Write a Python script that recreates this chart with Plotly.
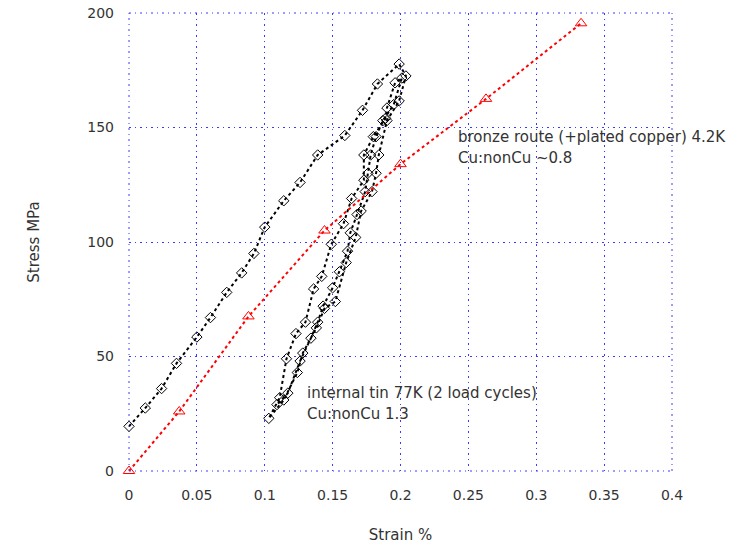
import plotly.graph_objects as go

# Bronze route (+plated copper) at 4.2 K
bronze_strain = [0.0, 0.037, 0.088, 0.144, 0.200, 0.263, 0.333]
bronze_stress = [0.0, 26.0, 67.5, 105.0, 134.0, 162.5, 195.5]

# Internal tin at 77 K, two load cycles (loading, unloading, reloading, unloading)
tin_strain = [
    0.000, 0.012, 0.024, 0.035, 0.050, 0.060, 0.072, 0.083, 0.092, 0.100,
    0.114, 0.126, 0.139, 0.159, 0.172, 0.183, 0.199,
    0.204, 0.199, 0.190, 0.184, 0.182, 0.179, 0.171, 0.167, 0.160, 0.152,
    0.144, 0.138, 0.128, 0.124, 0.114, 0.103,
    0.111, 0.116, 0.123, 0.130, 0.136, 0.142, 0.149, 0.158, 0.164, 0.173,
    0.173, 0.180, 0.189, 0.190, 0.196, 0.201,
    0.195, 0.187, 0.182, 0.178, 0.176, 0.174, 0.168, 0.163, 0.161, 0.155,
    0.150, 0.143, 0.139, 0.134, 0.126, 0.117, 0.109,
]
tin_stress = [
    19.5, 27.5, 36.0, 47.0, 58.5, 67.0, 78.0, 86.5, 95.0, 106.5,
    118.0, 126.0, 138.0, 146.5, 157.5, 169.0, 177.7,
    172.5, 161.6, 153.0, 138.0, 130.0, 122.0, 113.5, 102.0, 91.0, 74.0,
    71.0, 62.5, 51.5, 43.0, 31.0, 23.0,
    32.0, 49.0, 60.0, 65.0, 79.5, 85.0, 99.0, 108.0, 119.0, 127.0,
    138.0, 146.0, 154.0, 158.5, 169.5, 171.6,
    160.0, 153.0, 146.0, 138.0, 130.0, 122.0, 112.0, 104.0, 96.0, 87.0,
    80.0, 72.0, 65.0, 58.0, 48.0, 34.0, 29.0,
]

x_ticks = [0, 0.05, 0.1, 0.15, 0.2, 0.25, 0.3, 0.35, 0.4]
x_tick_text = ["0", "0.05", "0.1", "0.15", "0.2", "0.25", "0.3", "0.35", "0.4"]
y_ticks = [0, 50, 100, 150, 200]

text_color = "#333333"
font_family = "DejaVu Sans, sans-serif"
grid_color = "#3a3aff"
grid_dash = "2px,4px,1px,4px"

fig = go.Figure()

fig.add_trace(go.Scatter(
    x=tin_strain, y=tin_stress, mode="lines+markers",
    line=dict(color="black", width=2, dash="dot"),
    marker=dict(symbol="diamond-open", size=8, color="black", line=dict(width=1)),
    showlegend=False, cliponaxis=False,
))

fig.add_trace(go.Scatter(
    x=bronze_strain, y=bronze_stress, mode="lines+markers",
    line=dict(color="#ff0000", width=2, dash="dot"),
    marker=dict(symbol="triangle-up-open", size=10, color="#ff0000", line=dict(width=1)),
    showlegend=False, cliponaxis=False,
))

grid = dict(
    showgrid=True, gridcolor=grid_color, gridwidth=1, griddash=grid_dash,
    zeroline=False, showline=False, ticks="", automargin=False,
    tickfont=dict(family=font_family, size=14, color=text_color),
)

fig.update_xaxes(
    range=[0, 0.4], tickvals=x_ticks, ticktext=x_tick_text,
    title=dict(text="Strain %", font=dict(family=font_family, size=15, color=text_color), standoff=27),
    ticklabelstandoff=14,
    **grid,
)
fig.update_yaxes(
    range=[0, 200], tickvals=y_ticks,
    title=dict(text="Stress MPa", font=dict(family=font_family, size=15, color=text_color), standoff=44),
    ticklabelstandoff=14,
    **grid,
)

# dotted frame around the plotting area, in the same style as the grid
for x0, y0, x1, y1 in [(0, 0, 1, 0), (0, 1, 1, 1), (0, 0, 0, 1), (1, 0, 1, 1)]:
    fig.add_shape(
        type="line", xref="paper", yref="paper", x0=x0, y0=y0, x1=x1, y1=y1,
        line=dict(color=grid_color, width=1, dash=grid_dash), layer="below",
    )

annotations = [
    ("bronze route (+plated copper) 4.2K", 0.241, 146),
    ("Cu:nonCu ~0.8", 0.241, 136.5),
    ("internal tin 77K (2 load cycles)", 0.130, 34),
    ("Cu:nonCu 1.3", 0.130, 25),
]
for text, ax, ay in annotations:
    fig.add_annotation(
        x=ax, y=ay, text=text, showarrow=False, xanchor="left", yanchor="middle",
        font=dict(family=font_family, size=15, color=text_color),
    )

fig.update_layout(
    width=742, height=548,
    margin=dict(l=129, r=70, t=13, b=77),
    plot_bgcolor="white", paper_bgcolor="white",
)

fig.write_html("out.html")
